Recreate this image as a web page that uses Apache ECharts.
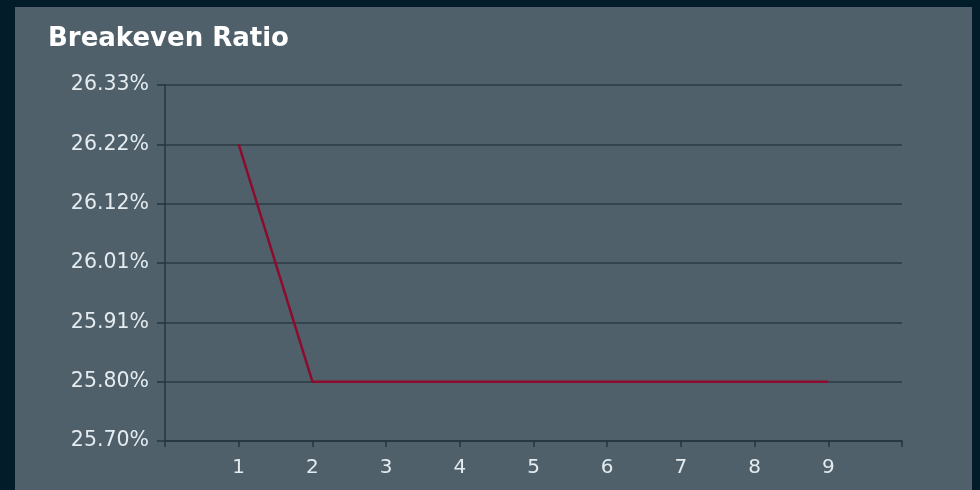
<!DOCTYPE html>
<html>
<head>
<meta charset="utf-8">
<script src="https://cdn.jsdelivr.net/npm/echarts@6/dist/echarts.min.js"></script>
<style>
  html, body { margin: 0; padding: 0; background: #031c2a; width: 980px; height: 490px; overflow: hidden; }
  #chart { position: absolute; left: 15px; top: 7px; width: 957px; height: 483px; }
</style>
</head>
<body>
<div id="chart"></div>
<script>
const categories = [1, 2, 3, 4, 5, 6, 7, 8, 9];
const breakevenRatio = [26.22, 25.80, 25.80, 25.80, 25.80, 25.80, 25.80, 25.80, 25.80];
const yTickLabels = ['25.70%', '25.80%', '25.91%', '26.01%', '26.12%', '26.22%', '26.33%'];
const yBase = 25.695;
const yStep = 0.105;

const chart = echarts.init(document.getElementById('chart'));
const font = '"DejaVu Sans", sans-serif';
chart.setOption({
  backgroundColor: '#4f606b',
  animation: false,
  title: {
    text: 'Breakeven Ratio',
    left: 28, top: 14,
    textStyle: { color: '#ffffff', fontSize: 26, fontWeight: 'bold', fontFamily: font }
  },
  grid: { left: 150, top: 78, right: 70, bottom: 49 },
  xAxis: {
    type: 'value', min: 0, max: categories.length + 1, interval: 1,
    axisLine: { show: true, lineStyle: { color: '#26343d', width: 1.5 } },
    axisTick: { show: true, length: 6, lineStyle: { color: '#26343d', width: 1.5 } },
    splitLine: { show: false },
    axisLabel: {
      color: '#e4ebef', fontSize: 20, fontFamily: font, margin: 17,
      formatter: v => (categories.indexOf(v) >= 0 ? String(v) : '')
    }
  },
  yAxis: {
    type: 'value', min: 0, max: yStep * (yTickLabels.length - 1), interval: yStep,
    axisLine: { show: true, lineStyle: { color: '#26343d', width: 1.5 } },
    axisTick: { show: true, length: 8, lineStyle: { color: '#26343d', width: 1.5 } },
    splitLine: { show: true, lineStyle: { color: '#2c3a43', width: 1.5 } },
    axisLabel: {
      color: '#e4ebef', fontSize: 20.5, fontFamily: font, margin: 16,
      formatter: v => yTickLabels[Math.round(v / yStep)] || ''
    }
  },
  series: [{
    type: 'line',
    data: breakevenRatio.map((v, i) => [categories[i], v - yBase]),
    showSymbol: false,
    lineStyle: { color: '#8d0b2c', width: 2.5 },
    itemStyle: { color: '#8d0b2c' }
  }]
});
</script>
</body>
</html>
